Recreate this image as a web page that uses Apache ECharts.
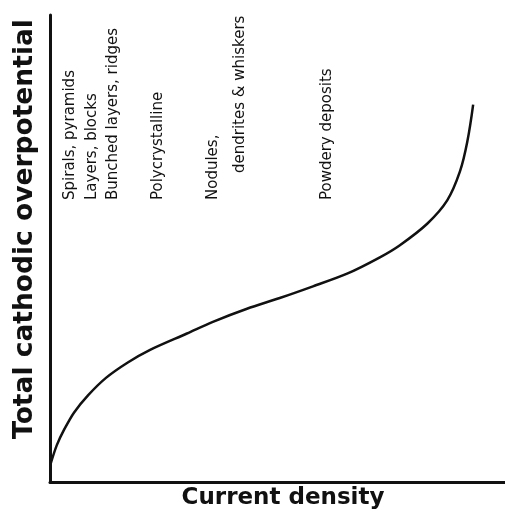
<!DOCTYPE html>
<html>
<head>
<meta charset="utf-8">
<script src="https://cdn.jsdelivr.net/npm/echarts@6/dist/echarts.min.js"></script>
<style>
  html, body { margin: 0; padding: 0; background: #fff; }
  #main { width: 505px; height: 514px; }
</style>
</head>
<body>
<div id="main"></div>
<script>
// curve, both axes in relative units 0..100
const currentDensity = [0.2, 1.5, 3.1, 5.3, 8.4, 12.3, 17.1, 22.0, 30.1, 35.8, 43.3, 50.5, 57.8, 65.3, 72.5, 76.9, 82.9, 87.3, 90.1, 91.7, 93.0]
const overpotential = [4.1, 7.9, 11.2, 14.9, 18.6, 22.3, 25.6, 28.3, 31.8, 34.3, 37.1, 39.4, 41.9, 44.6, 48.1, 50.7, 55.3, 60.3, 66.5, 72.8, 80.8]

// deposit morphology annotations
const labels = ['Spirals, pyramids', 'Layers, blocks', 'Bunched layers, ridges', 'Polycrystalline', 'Nodules,', 'dendrites & whiskers', 'Powdery deposits']
const labelX = [70, 92, 113, 158, 213, 240, 327]
const labelBottom = [200, 200, 200, 200, 200, 173, 200]

const font = 'DejaVu Sans'

let myChart = echarts.init(document.getElementById('main'))

myChart.setOption({
  animation: false,
  grid: { left: 50, top: 15, right: 0, bottom: 32 },
  xAxis: {
    type: 'value',
    min: 0,
    max: 100,
    axisLine: { lineStyle: { color: '#111', width: 3 } },
    axisTick: { show: false },
    axisLabel: { show: false },
    splitLine: { show: false }
  },
  yAxis: {
    type: 'value',
    min: 0,
    max: 100,
    axisLine: { show: true, lineStyle: { color: '#111', width: 3 } },
    axisTick: { show: false },
    axisLabel: { show: false },
    splitLine: { show: false }
  },
  graphic: [
    {
      type: 'text',
      x: 25,
      y: 229,
      rotation: Math.PI / 2,
      style: {
        text: 'Total cathodic overpotential',
        font: 'bold 26.5px ' + font,
        fill: '#111',
        align: 'center',
        verticalAlign: 'middle'
      }
    },
    {
      type: 'text',
      x: 283,
      y: 498,
      style: {
        text: 'Current density',
        font: 'bold 23px ' + font,
        fill: '#111',
        align: 'center',
        verticalAlign: 'middle'
      }
    }
  ].concat(labels.map((t, i) => ({
    type: 'text',
    x: labelX[i],
    y: labelBottom[i],
    rotation: Math.PI / 2,
    style: {
      text: t,
      font: '15px ' + font,
      fill: '#111',
      align: 'left',
      verticalAlign: 'middle'
    }
  }))),
  series: [{
    type: 'line',
    data: currentDensity.map((x, i) => [x, overpotential[i]]),
    smooth: 0.3,
    showSymbol: false,
    lineStyle: { color: '#111', width: 2.5 }
  }]
})
</script>
</body>
</html>
